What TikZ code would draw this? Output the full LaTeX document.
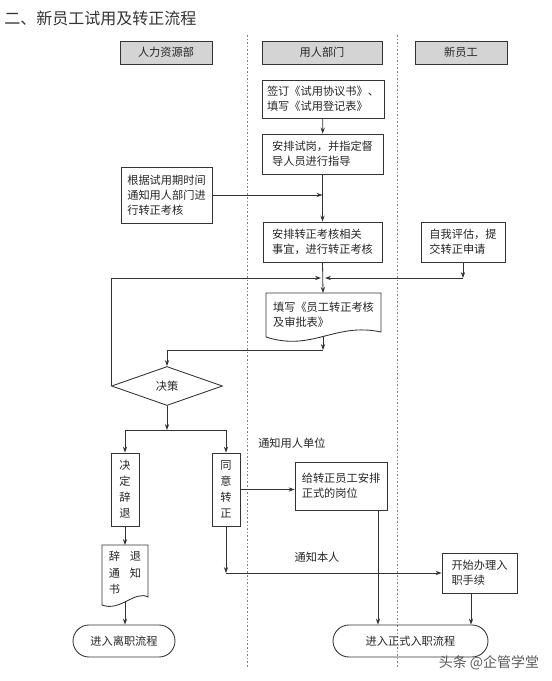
\documentclass[tikz,border=0pt]{standalone}
\usepackage{fontspec}
\setmainfont{Noto Sans CJK SC}
\usetikzlibrary{arrows.meta,shapes.geometric,shadows}

\begin{document}
\begin{tikzpicture}[x=0.75pt,y=0.75pt,yscale=-1,xscale=1,
  every node/.style={font=\fontsize{8.4}{11.25}\selectfont, text=black!85},
  sz/.style 2 args={minimum width=#1*0.75pt, minimum height=#2*0.75pt},
  box/.style={draw=black!80, line width=0.65pt, inner sep=0pt, align=left},
  head/.style={box, fill=black!17, align=center, drop shadow={shadow xshift=1pt, shadow yshift=-1pt, fill=black!50}},
  vbox/.style={box, align=center, font=\fontsize{8.4}{12}\selectfont},
  term/.style={box, align=center, rounded corners=12pt},
  doc/.style={draw=black!80, line width=0.65pt},
  lane/.style={draw=black!50, line width=0.5pt, dash pattern=on 1.2pt off 1.5pt},
  conn/.style={draw=black!80, line width=0.6pt, -{Stealth[length=4.5pt,width=3.2pt]}},
  note/.style={inner sep=0.75pt}]
		\useasboundingbox (0,0) rectangle (552,681);
		\node[note, anchor=west, font=\fontsize{12}{14}\selectfont, text=black!80] (title) at (3,18) {二、新员工试用及转正流程};
		\draw[lane] (247,35) -- (247,668);
		\draw[lane] (397,35) -- (397,668);
		\node[head, sz={92}{23}] (hr) at (166,52.5) {人力资源部};
		\node[head, sz={120}{23}] (dept) at (322,52.5) {用人部门};
		\node[head, sz={92}{23}] (staff) at (461,52.5) {新员工};
		\node[box, sz={122}{38}] (sign) at (323,99) {签订《试用协议书》、\\填写《试用登记表》};
		\node[box, sz={121}{40}] (trial) at (322.5,154) {安排试岗，并指定督\\导人员进行指导};
		\node[box, sz={91}{56}] (notify) at (166.5,195) {根据试用期时间\\通知用人部门进\\行转正考核};
		\node[box, sz={119}{40}] (assess) at (322.5,242) {安排转正考核相关\\事宜，进行转正考核};
		\node[box, sz={84}{40}] (self) at (463,242) {自我评估，提\\交转正申请};
		\coordinate (merge) at (323,278);
		\coordinate (selfturn) at (self.south |- merge);
		\coordinate (formtop) at (323,293);
		\draw[doc] (266,293) -- (381,293) -- (381,332) .. controls (335,322) and (312,352) .. (266,337) -- cycle;
		\node[note, align=left] (form) at (323.5,315) {填写《员工转正考核\\及审批表》};
		\coordinate (formbot) at (323,336);
		\coordinate (formturn) at (323,350);
		\node[diamond, aspect=2.8, draw=black!80, line width=0.65pt, inner sep=0pt, sz={111}{39}] (decide) at (167,386) {决策};
		\coordinate (split) at (167,430);
		\node[vbox, sz={28}{73}] (dismiss) at (125,489.5) {决\\定\\辞\\退};
		\node[vbox, sz={28}{73}] (agree) at (226,489.5) {同\\意\\转\\正};
		\node[note, anchor=west] (lbl1) at (257,443) {通知用人单位};
		\node[box, sz={92}{48}] (post) at (341,486) {给转正员工安排\\正式的岗位};
		\coordinate (postbot) at (378,510);
		\coordinate (lettertop) at (125,545);
		\draw[doc] (102,545) -- (148,545) -- (148,597) .. controls (135,590) and (120,612) .. (102,605) -- cycle;
		\node[note, align=left, font=\fontsize{8.4}{12.5}\selectfont] (letter) at (125,573) {辞\hspace{7.5pt}退\\通\hspace{7.5pt}知\\书};
		\coordinate (letterbot) at (125,601);
		\node[term, sz={102}{32}] (leave) at (124,641) {进入离职流程};
		\node[note] (lbl2) at (317,557) {通知本人};
		\node[box, sz={75}{40}] (start) at (479.5,573) {开始办理入\\职手续};
		\coordinate (startbot) at (471,593);
		\coordinate (agreeturn) at (agree.south |- start.west);
		\node[term, sz={155}{32}] (formal) at (410.5,641) {进入正式入职流程};
		\node[note, font=\fontsize{10.5}{12}\selectfont, text=black!65] (mark) at (489,663) {头条 @企管学堂};
		\draw[conn] (sign) -- (trial);
		\draw[conn] (trial) -- (assess);
		\draw[conn] (notify.east) -- (notify.east -| trial.south);
		\draw[conn] (assess.south) -- (formtop);
		\draw[conn] (self.south) -- (selfturn);
		\draw[conn] (selfturn) -- ([xshift=1.5pt]merge);
		\draw[conn] (decide.west) |- ([xshift=-1.5pt]merge);
		\draw[conn] (formbot) -- (formturn);
		\draw[conn] (formturn) -| (decide.north);
		\draw[conn] (decide.south) -- (split);
		\draw[conn] (split) -| (dismiss.north);
		\draw[conn] (split) -| (agree.north);
		\draw[conn] (agree.east) -- (agree.east -| post.west);
		\draw[conn] (dismiss.south) -- (lettertop);
		\draw[conn] (letterbot) -- (letterbot |- leave.north);
		\draw[conn] (agree.south) -- (agreeturn);
		\draw[conn] (agreeturn) -- (start.west);
		\draw[conn] (postbot) -- (postbot |- formal.north);
		\draw[conn] (startbot) -- (startbot |- formal.north);
\end{tikzpicture}
\end{document}
